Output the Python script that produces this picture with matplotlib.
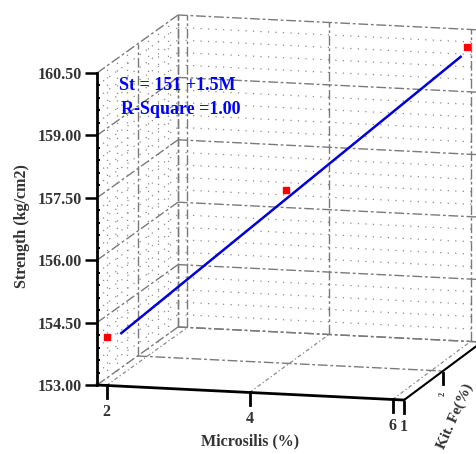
import numpy as np
import matplotlib
matplotlib.use('Agg')
import matplotlib.pyplot as plt
from matplotlib.transforms import IdentityTransform

# values
microsilica = [2, 4, 6]          # %
fe = [1.02, 1.92, 2.9]           # depth axis (%)
strength = [154.14, 157.23, 160.15]

fit_m = [2.15, 5.97]
fit_fe = [1.1, 2.8]
fit_s = [154.2, 159.98]

x_ticks = [2, 4, 6]
y_ticks = [153.0, 154.5, 156.0, 157.5, 159.0, 160.5]
fe_ticks = [1, 2, 3]
fe_ticklabels = ['1', '2', '3']

m_lim = (1.867, 6.16)
s_lim = (153.0, 160.5)
fe_lim = (1.0, 3.0)

W, H = 476, 454
fig = plt.figure(figsize=(W / 100, H / 100), dpi=100)
ax = fig.add_axes([97 / W, (H - 385) / H, (404 - 97) / W, (385 - 73) / H])
ax.set_xlim(m_lim)
ax.set_ylim(s_lim)
ax.patch.set_visible(False)
for side in ['top', 'right', 'bottom']:
    ax.spines[side].set_visible(False)
ax.spines['left'].set_linewidth(2)
ax.xaxis.set_visible(False)

tfont = dict(family='Liberation Serif', weight='bold', size=11.5, color='#333333')
ax.set_yticks(y_ticks)
ax.set_yticklabels(['%.2f' % v for v in y_ticks], fontdict=tfont)
ax.set_yticks(np.arange(153.0, 160.51, 0.3), minor=True)
ax.tick_params(axis='y', which='major', length=9, width=1.8, direction='out', pad=2)
ax.tick_params(axis='y', which='minor', length=2.5, width=1.5, direction='in')

# oblique projection (pixels) built on the axes' own data transform
shear = 0.049
dx0, dy0 = 81.0, 58.0
persp = 0.0102
X0 = ax.transData.transform((m_lim[0], s_lim[0]))[0]
ident = IdentityTransform()


def proj(m, s, f):
    m, s, f = np.broadcast_arrays(np.atleast_1d(m).astype(float),
                                  np.atleast_1d(s).astype(float),
                                  np.atleast_1d(f).astype(float))
    pts = ax.transData.transform(np.column_stack([m, s]))
    X, Y = pts[:, 0], pts[:, 1]
    d = (f - fe_lim[0]) / (fe_lim[1] - fe_lim[0])
    Y = Y - shear * (X - X0)
    X = X + d * (dx0 - persp * (X - X0))
    Y = Y + d * dy0
    return X, Y


def line3(m, s, f, **kw):
    X, Y = proj(m, s, f)
    ax.plot(X, Y, transform=ident, clip_on=False, **kw)


major = dict(color='#7a7a7a', lw=1.0, ls=(0, (7, 2, 2, 2)))
minor = dict(color='#8a8a8a', lw=0.9, ls=(0, (1, 5)))

s_minor = [v for v in np.arange(153.0, 160.51, 0.3) if min(abs(v - t) for t in y_ticks) > 0.05]
fe_minor = [v for v in np.arange(1.0, 3.01, 0.25) if min(abs(v - t) for t in fe_ticks) > 0.05]

# back wall
for s in s_minor:
    line3(m_lim, [s, s], fe_lim[1], **minor)
for s in y_ticks:
    line3(m_lim, [s, s], fe_lim[1], **major)
for m in [m_lim[0]] + x_ticks:
    line3([m, m], s_lim, fe_lim[1], **major)

# left wall
for s in s_minor:
    line3(m_lim[0], [s, s], fe_lim, **minor)
for f in fe_minor:
    line3(m_lim[0], s_lim, [f, f], **minor)
for s in y_ticks:
    line3(m_lim[0], [s, s], fe_lim, **major)
for f in fe_ticks[1:]:
    line3(m_lim[0], s_lim, [f, f], **major)

# floor
for f in fe_ticks[1:]:
    line3(m_lim, s_lim[0], [f, f], **major)
for m in x_ticks:
    line3([m, m], s_lim[0], fe_lim, color='#8a8a8a', lw=0.9, ls=(0, (3, 2, 1, 2)))

# solid edges
line3(m_lim, s_lim[0], fe_lim[0], color='black', lw=2)
line3(m_lim[1], s_lim[0], fe_lim, color='black', lw=1.5)

lfont = dict(family='Liberation Serif', weight='bold', size=11.5, color='#333333')

# x ticks on the front floor edge
for m in x_ticks:
    X, Y = proj(m, s_lim[0], fe_lim[0])
    ax.plot([X[0], X[0]], [Y[0], Y[0] - 13], transform=ident, clip_on=False, color='black', lw=2)
    ax.text(X[0], Y[0] - 27, str(m), transform=ident, ha='center', va='center', **lfont)

# depth ticks on the right floor edge
for f, lab in zip(fe_ticks[:2], fe_ticklabels[:2]):
    X, Y = proj(m_lim[1], s_lim[0], f)
    ax.plot([X[0], X[0]], [Y[0] - 2, Y[0] - 13], transform=ident, clip_on=False, color='black', lw=2)
    if f == fe_ticks[0]:
        ax.text(X[0], Y[0] - 27, lab, transform=ident, ha='center', va='center', **lfont)
    else:
        ax.text(X[0], Y[0] - 23, lab, transform=ident, ha='center', va='center',
                family='Liberation Serif', weight='bold', size=6, color='#333333', rotation=90)

# data
Xf, Yf = proj(fit_m, fit_s, fit_fe)
ax.plot(Xf, Yf, transform=ident, clip_on=False, color='#0000dd', lw=1.8)
Xp, Yp = proj(microsilica, strength, fe)
ax.plot(Xp, Yp, 's', transform=ident, clip_on=False, color='red', ms=4.5, mec='red')

# labels
fig.text(22 / W, 1 - 226 / H, 'Strength (kg/cm2)', rotation=90, ha='center', va='center', **lfont)
fig.text(250 / W, 1 - 441 / H, 'Microsilis (%)', ha='center', va='center', **lfont)
fig.text(455 / W, 1 - 416 / H, 'Kit. Fe(%)', rotation=66, ha='center', va='center',
         family='Liberation Serif', weight='bold', size=11, color='#333333')

efont = dict(family='Liberation Serif', weight='bold', size=13, color='#0000ff')
fig.text(119 / W, 1 - 86 / H, 'St = 151 +1.5M', ha='left', va='center', **efont)
fig.text(121 / W, 1 - 109 / H, 'R-Square =1.00', ha='left', va='center', **efont)

fig.savefig('out.png', dpi=100)
